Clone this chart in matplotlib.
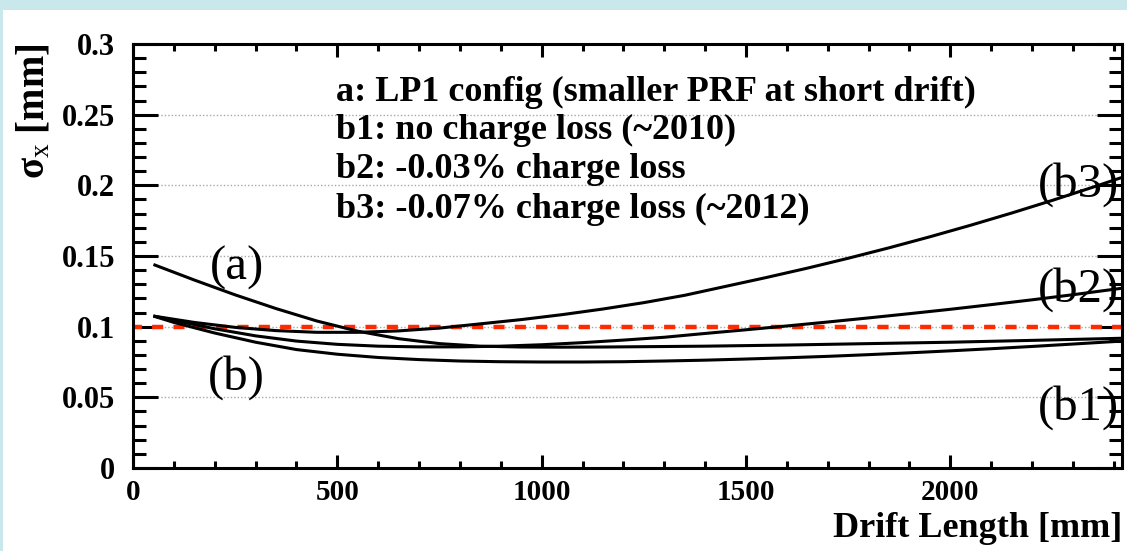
import matplotlib
matplotlib.use("Agg")
import matplotlib.pyplot as plt
from matplotlib.patches import Rectangle
from matplotlib.ticker import MultipleLocator, FuncFormatter

plt.rcParams["font.family"] = ["Liberation Serif", "DejaVu Serif"]
plt.rcParams["mathtext.fontset"] = "custom"
plt.rcParams["mathtext.rm"] = "Liberation Serif"
plt.rcParams["mathtext.it"] = "Liberation Serif"

# resolution vs drift length, read per curve (drift length in mm, sigma_x in mm)
drift_a = [50, 150, 250, 350, 450, 550, 650, 750, 850, 950, 1050, 1150,
           1400, 1600, 1800, 2000, 2200, 2420]
sigma_a = [0.1440, 0.1330, 0.1225, 0.1128, 0.1040, 0.0968, 0.0915, 0.0880,
           0.0862, 0.0856, 0.0855, 0.0856, 0.0862, 0.0870, 0.0880, 0.0890,
           0.0903, 0.0918]

drift_b = [50, 100, 200, 300, 400, 500, 600, 700, 800, 900, 1000, 1100, 1200,
           1300, 1400, 1500, 1600, 1700, 1800, 1900, 2000, 2100, 2200, 2300, 2420]
sigma_b1 = [0.1075, 0.1030, 0.0955, 0.0890, 0.0838, 0.0805, 0.0782, 0.0767,
            0.0757, 0.0752, 0.0750, 0.0750, 0.0752, 0.0757, 0.0763, 0.0771,
            0.0780, 0.0790, 0.0802, 0.0815, 0.0829, 0.0844, 0.0860, 0.0877,
            0.0898]
sigma_b2 = [0.1075, 0.1045, 0.0985, 0.0935, 0.0898, 0.0875, 0.0862, 0.0857,
            0.0857, 0.0862, 0.0872, 0.0887, 0.0905, 0.0925, 0.0952, 0.0978,
            0.1005, 0.1033, 0.1062, 0.1092, 0.1123, 0.1156, 0.1190, 0.1226,
            0.1272]

drift_b3 = [50, 150, 250, 350, 450, 550, 650, 750, 850, 950, 1050, 1150, 1250,
            1350, 1450, 1550, 1650, 1750, 1850, 1950, 2050, 2150, 2250, 2350, 2420]
sigma_b3 = [0.1075, 0.1030, 0.0995, 0.0972, 0.0960, 0.0960, 0.0970, 0.0990,
            0.1020, 0.1050, 0.1085, 0.1125, 0.1170, 0.1222, 0.1285, 0.1348,
            0.1414, 0.1484, 0.1558, 0.1636, 0.1718, 0.1804, 0.1894, 0.1988,
            0.2056]

requirement = 0.1
x_max = 2420

legend_lines = [
    "a: LP1 config (smaller PRF at short drift)",
    "b1: no charge loss (~2010)",
    "b2: -0.03% charge loss",
    "b3: -0.07% charge loss (~2012)",
]
legend_y = [0.266, 0.2385, 0.211, 0.1826]

fig = plt.figure(figsize=(11.27, 5.51), dpi=100)
fig.patch.set_facecolor("#c8e8ec")
fig.add_artist(Rectangle((3 / 1127, 0), 1, 541 / 551, transform=fig.transFigure,
                         facecolor="white", edgecolor="none", zorder=-10))

ax = fig.add_axes([133 / 1127, 83 / 551, 989 / 1127, 424 / 551])
ax.set_facecolor("white")

for y in [0.05, 0.1, 0.15, 0.2, 0.25]:
    ax.axhline(y, color="#a8a8a8", lw=1.0, ls=(0, (1, 1.5)), zorder=1)

ax.plot([0, x_max], [requirement, requirement], color="#ff2a00", lw=3.2,
        ls=(0.5, (2.5, 2.3)), zorder=2)

for xs, ys in [(drift_a, sigma_a), (drift_b, sigma_b1), (drift_b, sigma_b2),
               (drift_b3, sigma_b3)]:
    ax.plot(xs, ys, color="black", lw=2.2, solid_capstyle="butt", zorder=3)

ax.set_xlim(0, x_max)
ax.set_ylim(0, 0.3)

ax.xaxis.set_major_locator(MultipleLocator(500))
ax.xaxis.set_minor_locator(MultipleLocator(100))
ax.yaxis.set_major_locator(MultipleLocator(0.05))
ax.yaxis.set_minor_locator(MultipleLocator(0.01))
ax.yaxis.set_major_formatter(FuncFormatter(lambda v, p: f"{v:g}"))
ax.xaxis.set_major_formatter(FuncFormatter(lambda v, p: f"{v:g}"))

ax.tick_params(axis="both", which="both", direction="in", top=True, right=True,
               width=2.2, color="black")
ax.tick_params(axis="x", which="major", length=9.5, pad=8, labelsize=21)
ax.tick_params(axis="x", which="minor", length=5)
ax.tick_params(axis="y", which="major", length=18, pad=13, labelsize=22)
ax.tick_params(axis="y", which="minor", length=9.5)
for lab in ax.get_xticklabels() + ax.get_yticklabels():
    lab.set_fontweight("bold")
for sp in ax.spines.values():
    sp.set_linewidth(2.2)

ax.set_xlabel("Drift Length [mm]", loc="right", fontsize=26, fontweight="bold",
              labelpad=4)
ax.set_ylabel(r"σ$_\mathrm{x}$ [mm]", loc="top", fontsize=28, fontweight="bold",
              labelpad=6)

for txt, y in zip(legend_lines, legend_y):
    ax.text(496, y, txt, fontsize=26, fontweight="bold", va="center", ha="left")

ax.text(254, 0.1415, "(a)", fontsize=35, ha="center", va="center")
ax.text(254, 0.0637, "(b)", fontsize=35, ha="center", va="center")
ax.text(2412, 0.2003, "(b3)", fontsize=35, ha="right", va="center")
ax.text(2412, 0.126, "(b2)", fontsize=35, ha="right", va="center")
ax.text(2412, 0.0425, "(b1)", fontsize=35, ha="right", va="center")

fig.savefig("out.png", dpi=100, facecolor=fig.get_facecolor())
